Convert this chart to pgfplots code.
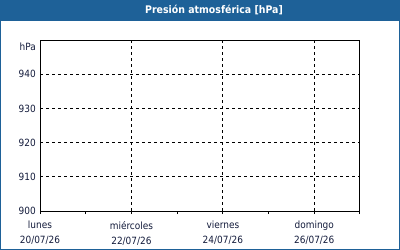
\documentclass[border=0pt]{standalone}
\usepackage{fontspec}
\setmainfont{DejaVu Sans Condensed}
\usepackage{pgfplots}
\pgfplotsset{compat=1.18}
\definecolor{barblue}{RGB}{30,97,152}
\definecolor{txt}{RGB}{20,28,60}
\begin{document}
\begin{tikzpicture}[x=1bp,y=1bp]
\useasboundingbox (0,0) rectangle (400,250);
\fill[white] (0,0) rectangle (400,250);
\fill[barblue] (0,229) rectangle (400,250);
\draw[barblue,line width=1bp] (0.5,0.5) rectangle (399.5,249.5);
\node[text=white,font=\fontsize{10.5}{12}\selectfont\bfseries] at (214,239.5) {Presión atmosférica [hPa]};
\begin{axis}[at={(40bp,39bp)}, anchor=south west, scale only axis,
  width=320bp, height=171bp,
  xmin=0, xmax=7, ymin=900, ymax=950,
  xtick={0,2,4,6}, minor xtick={1,3,5,7},
  xticklabels={{lunes\\20/07/26},{miércoles\\22/07/26},{viernes\\24/07/26},{domingo\\26/07/26}},
  xticklabel style={align=center, font=\fontsize{10}{15}\selectfont, text=txt, inner sep=0pt, yshift=-7bp},
  ytick={900,910,...,940},
  yticklabel style={font=\fontsize{10}{12}\selectfont, text=txt, inner sep=0pt, xshift=-1bp},
  extra y ticks={948}, extra y tick labels={hPa},
  extra y tick style={grid=none, yticklabel style={font=\fontsize{10}{12}\selectfont, text=txt, inner sep=0pt}},
  /pgf/number format/assume math mode=true,
  ymajorgrids, xmajorgrids,
  grid style={black, dash pattern=on 3bp off 3bp, line width=0.8bp},
  axis line style={black, line width=1bp},
  tick align=outside, xtick pos=lower, ytick pos=left,
  major tick length=3bp, minor tick length=3bp,
  every tick/.append style={black, line width=1bp},
  ytick style={draw=none},
]
\end{axis}
\end{tikzpicture}
\end{document}
